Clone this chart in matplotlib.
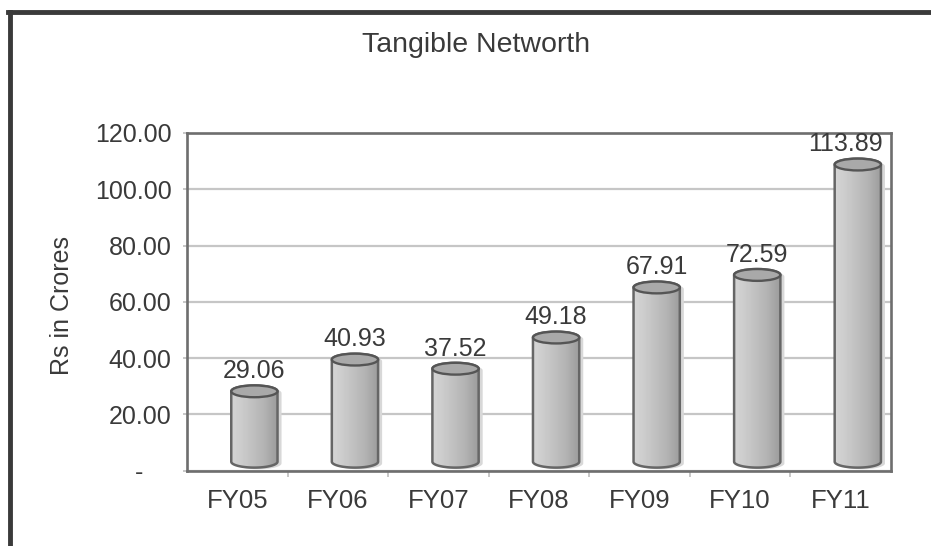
import matplotlib
matplotlib.use("Agg")
import matplotlib.pyplot as plt
from matplotlib.path import Path
from matplotlib.patches import PathPatch, Ellipse
from matplotlib.lines import Line2D
from matplotlib.colors import LinearSegmentedColormap
import numpy as np

# data
years = ['FY05', 'FY06', 'FY07', 'FY08', 'FY09', 'FY10', 'FY11']
networth = [29.06, 40.93, 37.52, 49.18, 67.91, 72.59, 113.89]
yticks = [0, 20, 40, 60, 80, 100, 120]

plt.rcParams['font.family'] = ['Liberation Sans', 'DejaVu Sans']
txt_color = '#3a3a3a'
fs = 18

W, H = 931, 546
fig = plt.figure(figsize=(W / 100, H / 100), dpi=100)
ax = fig.add_axes([187 / W, (H - 470.7) / H, 704 / W, 337.7 / H])

# 3d look of the cylinders: shifted right, slightly shrunk, sitting above floor
dx = 0.17
bw = 0.46
depth_k = 0.95
depth_off = 0.6
floor = 3.2
eh = 2.1  # half height of the ellipses, data units

gray_cmap = LinearSegmentedColormap.from_list(
    'cyl', [(0, '#d6d6d6'), (0.35, '#c6c6c6'), (0.7, '#b4b4b4'), (1, '#9c9c9c')])
grad = np.linspace(0, 1, 64).reshape(1, -1)

labels = []
t = np.linspace(0, np.pi, 40)
for i, v in enumerate(networth):
    cx = i + dx
    top = depth_off + depth_k * v
    left, right = cx - bw / 2, cx + bw / 2
    # body outline: left side, front arc of bottom, right side, back arc of top
    bx = cx - np.cos(t) * bw / 2
    by = floor - np.sin(t) * eh
    tx = cx + np.cos(t) * bw / 2
    ty = top + np.sin(t) * eh
    xs = np.concatenate([[left], bx, [right], tx])
    ys = np.concatenate([[top], by, [top], ty])
    verts = np.column_stack([xs, ys])
    path = Path(np.vstack([verts, verts[:1]]), closed=True)

    # soft shadow to the right
    ax.add_patch(PathPatch(Path(verts + [0.04, -0.6]), fc='#d8d8d8', ec='none', zorder=2))
    body = PathPatch(path, fc='none', ec='#666666', lw=1.8, zorder=4)
    ax.add_patch(body)
    im = ax.imshow(grad, cmap=gray_cmap, aspect='auto', interpolation='bilinear',
                   extent=[left, right, floor - eh, top + eh], zorder=3)
    im.set_clip_path(body)
    # top cap
    ax.add_patch(Ellipse((cx, top), bw, 2 * eh, fc='#a9a9a9', ec='#555555', lw=1.7, zorder=5))

    lbl = ax.annotate(f'{v:.2f}', (i + dx, top), xytext=(0, 14.5), textcoords='offset points',
                      ha='center', va='center', fontsize=fs, color=txt_color, zorder=6)
    labels.append(lbl)

ax.set_xlim(-0.5, len(years) - 0.5)
ax.set_ylim(0, 120)

# zero shown as accounting dash, padded on the right
ax.set_yticks(yticks)
ax.set_yticklabels(['-' + '\u00a0' * 4] + [f'{y:.2f}' for y in yticks[1:]])
ax.tick_params(axis='y', length=3, width=1.2, color='#bdbdbd', pad=8,
               labelsize=fs, labelcolor=txt_color)

ax.set_xticks(range(len(years)))
ax.set_xticklabels(years)
ax.set_xticks(np.arange(0.5, len(years) - 0.5), minor=True)
ax.tick_params(axis='x', which='major', length=0, pad=13, labelsize=18.5, labelcolor=txt_color)
ax.tick_params(axis='x', which='minor', length=4, width=1.2, color='#bdbdbd')

ax.grid(axis='y', color='#c6c6c6', lw=1.6, zorder=1)
ax.set_axisbelow(True)
for s in ax.spines.values():
    s.set_color('#6e6e6e')
    s.set_linewidth(1.9)

ax.set_ylabel('Rs in Crores', fontsize=fs, color=txt_color)
ax.yaxis.set_label_coords(-0.16, 0.49)

fig.text(476 / W, 1 - 45 / H, 'Tangible Networth', ha='center', va='center',
         fontsize=20.5, color=txt_color)

# outer frame (only left and top edges are in view)
fig.add_artist(Line2D([10 / W, 10 / W], [0, 1 - 12 / H], color='#3a3a3a', lw=3.5,
                      transform=fig.transFigure))
fig.add_artist(Line2D([8 / W, 1], [1 - 12 / H, 1 - 12 / H], color='#3a3a3a', lw=3.5,
                      transform=fig.transFigure))

# keep value labels inside the plot frame
renderer = fig.canvas.get_renderer()
ax_right = ax.get_window_extent(renderer).x1
for lbl in labels:
    bb = lbl.get_window_extent(renderer)
    over = bb.x1 - (ax_right - 8)
    if over > 0:
        x0, y0 = lbl.xyann
        lbl.xyann = (x0 - over * 72 / fig.dpi, y0)

fig.savefig('out.png', dpi=100)
